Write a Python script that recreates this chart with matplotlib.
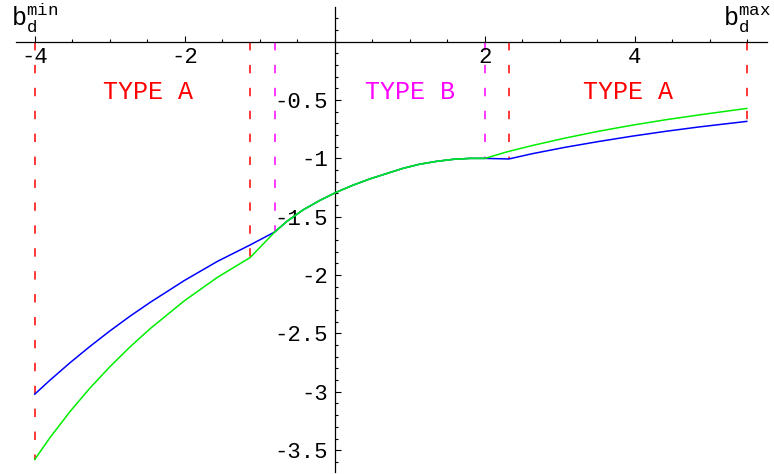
import numpy as np
import matplotlib.pyplot as plt
from matplotlib.ticker import FixedLocator, MultipleLocator

plt.rcParams['font.family'] = ['Liberation Mono', 'DejaVu Sans']
plt.rcParams['mathtext.fontset'] = 'custom'
plt.rcParams['mathtext.rm'] = 'Liberation Mono'

# left region: the two branches
left_x = [-4.0, -3.8, -3.53, -3.27, -3.0, -2.73, -2.46, -2.01, -1.57, -1.13]
blue_left = [-3.02, -2.902, -2.751, -2.614, -2.479, -2.352, -2.233, -2.048, -1.884, -1.742]
green_left = [-3.58, -3.395, -3.169, -2.972, -2.786, -2.615, -2.458, -2.222, -2.021, -1.85]

# common curve (both coincide)
mid_x = [-0.80, -0.64, -0.42, -0.20, 0.02, 0.24, 0.47, 0.69, 0.91, 1.13, 1.36, 1.58, 1.80, 2.00]
mid_y = [-1.63, -1.54, -1.44, -1.36, -1.29, -1.23, -1.175, -1.13, -1.085, -1.05, -1.025, -1.008, -1.0, -1.0]

# right region
blue_right_x = [2.00, 2.32, 2.63, 3.07, 3.52, 3.96, 4.40, 4.85, 5.49]
blue_right = [-1.0, -1.005, -0.96, -0.905, -0.855, -0.81, -0.769, -0.731, -0.683]
green_right_x = [2.00, 2.30, 2.63, 3.07, 3.52, 3.96, 4.40, 4.85, 5.49]
green_right = [-1.0, -0.943, -0.890, -0.826, -0.767, -0.716, -0.670, -0.628, -0.572]

# boundaries (x, bottom, colour)
bound_x = [-4.0, -1.13, -0.80, 2.00, 2.32, 5.49]
bound_bottom = [-3.58, -1.85, -1.63, -1.0, -1.005, -0.683]
bound_col = ['red', 'red', 'magenta', 'magenta', 'red', 'red']

labels = ['TYPE A', 'TYPE B', 'TYPE A']
label_x = [-2.49, 1.0, 3.91]
label_col = ['red', 'magenta', 'red']

fig = plt.figure(figsize=(7.74, 4.74), dpi=100)
ax = fig.add_axes([16 / 774, 2 / 474, 751 / 774, 465 / 474])
ax.set_xlim(-4.25, 5.76)
ax.set_ylim(-3.687, 0.297)

blue_x = left_x + mid_x + blue_right_x[1:]
blue_y = blue_left + mid_y + blue_right[1:]
green_x = left_x + mid_x + green_right_x[1:]
green_y = green_left + mid_y + green_right[1:]

ax.plot(green_x, green_y, color='#00ee00', lw=1.1, zorder=3)
ax.plot(blue_x, blue_y, color='blue', lw=1.1, zorder=2)
ax.plot(mid_x, mid_y, color='#00dd33', lw=1.1, zorder=4)

for x, yb, c in zip(bound_x, bound_bottom, bound_col):
    ax.plot([x, x], [0, yb], color=c, lw=1.1, linestyle=(0, (5.5, 9.5)), zorder=1)

for t, x, c in zip(labels, label_x, label_col):
    ax.text(x, -0.43, t, color=c, fontsize=18, ha='center', va='center')

ax.text(-4.0, 0.06, r'$\mathrm{b}_{\mathrm{d}}^{\mathrm{min}}$', fontsize=18, ha='center', va='bottom')
ax.text(5.49, 0.06, r'$\mathrm{b}_{\mathrm{d}}^{\mathrm{max}}$', fontsize=18, ha='center', va='bottom')

# axes through the origin
for s in ['top', 'right']:
    ax.spines[s].set_visible(False)
ax.spines['left'].set_position(('data', 0))
ax.spines['bottom'].set_position(('data', 0))
ax.spines['left'].set_linewidth(0.9)
ax.spines['bottom'].set_linewidth(0.9)

ax.xaxis.set_major_locator(FixedLocator([-4, -2, 2, 4]))
ax.xaxis.set_minor_locator(MultipleLocator(0.5))
ax.yaxis.set_major_locator(FixedLocator([-0.5, -1, -1.5, -2, -2.5, -3, -3.5]))
ax.yaxis.set_minor_locator(MultipleLocator(0.1))
ax.set_xticklabels(['-4', '-2', '2', '4'])
ax.set_yticklabels(['-0.5', '-1', '-1.5', '-2', '-2.5', '-3', '-3.5'])

ax.tick_params(which='both', direction='in', width=0.8, labelsize=16)
ax.tick_params(which='major', length=4.5)
ax.tick_params(which='minor', length=2.5)
ax.tick_params(axis='x', pad=4)
ax.tick_params(axis='y', pad=5)

fig.savefig('out.png', dpi=100)
